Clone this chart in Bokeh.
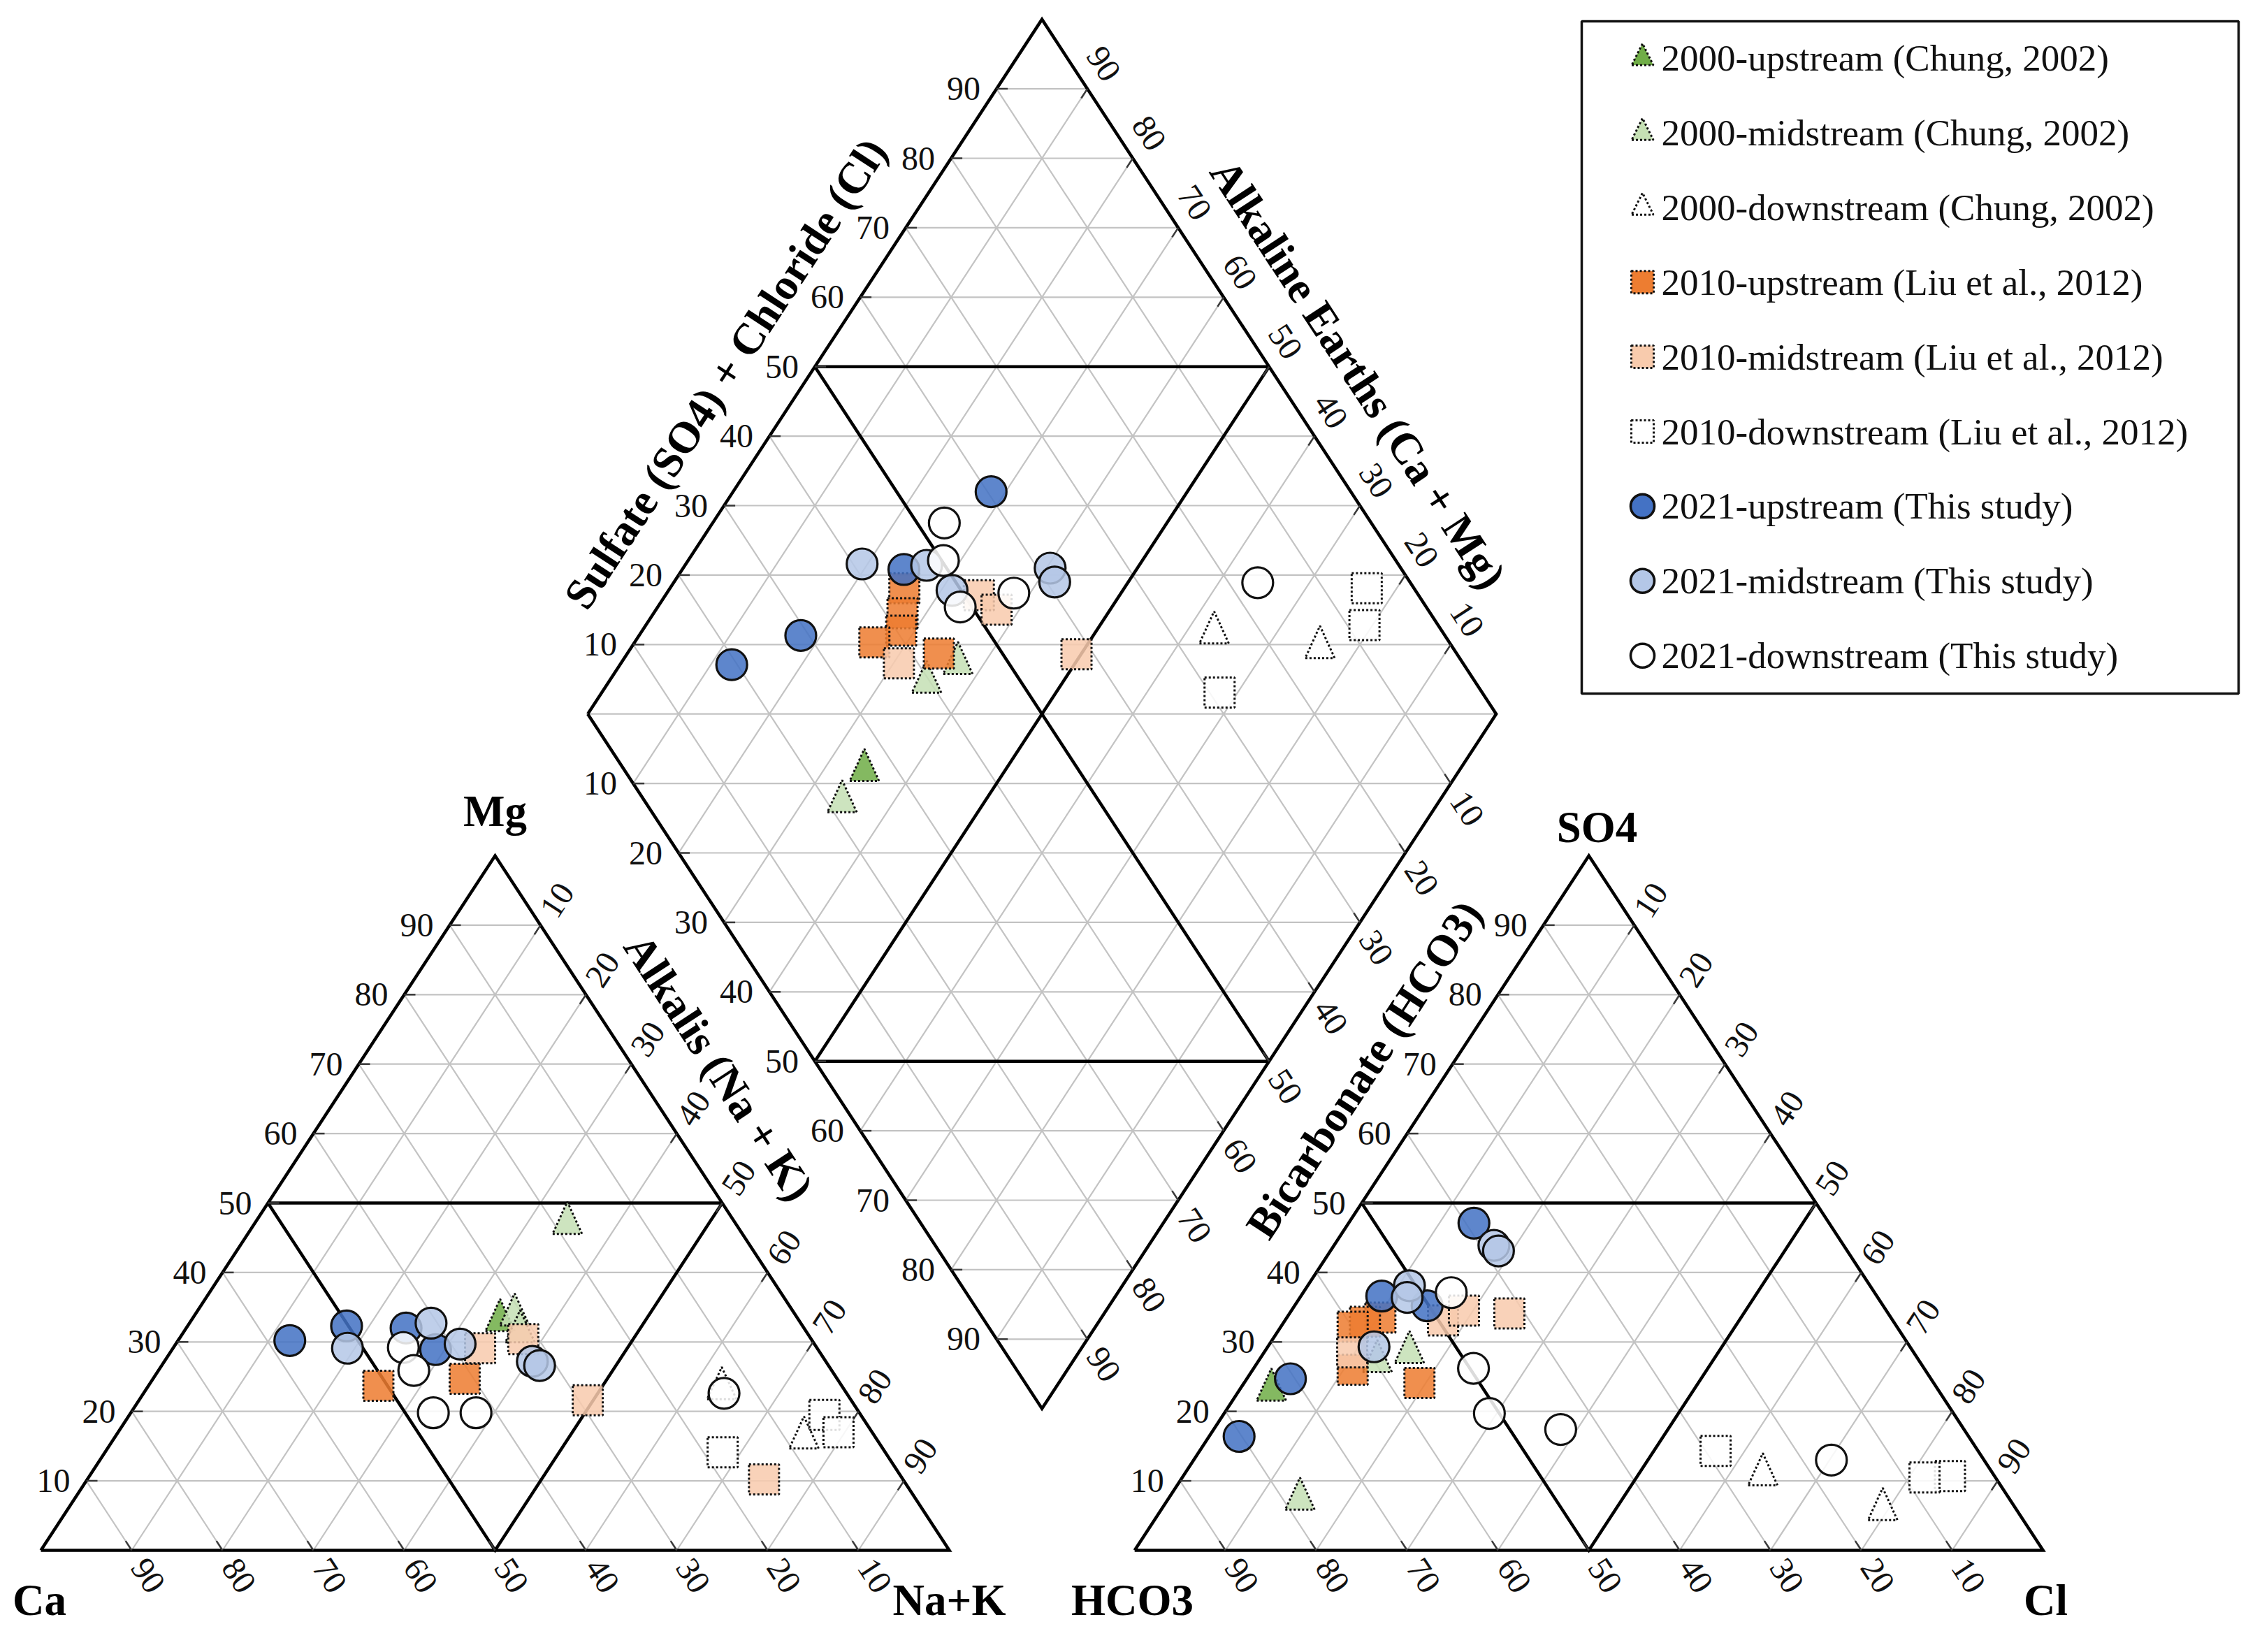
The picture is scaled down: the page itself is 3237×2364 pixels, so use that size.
import math
import numpy as np
from bokeh.plotting import figure
from bokeh.models import Range1d
from bokeh.embed import file_html
from bokeh.resources import INLINE
from bokeh.core.properties import value

# ------------------------------------------------------------------
# DATA  (percent)
# cations: Mg %, Na+K %   | anions: SO4 %, Cl %   | diamond: Na+K %, SO4+Cl %
# ------------------------------------------------------------------
LABELS = ["2000-upstream (Chung, 2002)", "2000-midstream (Chung, 2002)",
          "2000-downstream (Chung, 2002)", "2010-upstream (Liu et al., 2012)",
          "2010-midstream (Liu et al., 2012)", "2010-downstream (Liu et al., 2012)",
          "2021-upstream (This study)", "2021-midstream (This study)",
          "2021-downstream (This study)"]

U2000_MG, U2000_NAK = [33.1], [34.0]
U2000_SO4, U2000_CL = [23.1], [3.5]
U2000_D_NAK, U2000_D_AN = [34.5], [26.4]

M2000_MG, M2000_NAK = [47.1, 33.9, 31.5], [34.4, 35.2, 37.0]
M2000_SO4, M2000_CL = [7.4, 27.2, 28.5], [14.5, 13.1, 16.0]
M2000_D_NAK, M2000_D_AN = [34.3, 35.0, 37.1], [21.7, 39.6, 44.4]

D2000_MG, D2000_NAK = [23.3, 16.2], [63.3, 75.9]
D2000_SO4, D2000_CL = [10.9, 5.9], [63.7, 79.4]
D2000_D_NAK, D2000_D_AN = [63.1, 75.8], [74.8, 85.4]

U2010_MG, U2010_NAK = [23.7, 24.7], [25.3, 34.3]
U2010_SO4, U2010_CL = [33.5, 32.9, 32.2, 26.0, 24.1], [10.3, 8.9, 7.9, 11.0, 19.3]
U2010_D_NAK, U2010_D_AN = [25.8, 27.4, 28.5, 26.4, 34.3], [43.9, 41.9, 40.5, 36.7, 43.0]

M2010_MG, M2010_NAK = [29.1, 30.4, 21.6, 10.2], [33.8, 37.9, 49.4, 74.5]
M2010_SO4, M2010_CL = [33.1, 34.5, 34.1, 28.5], [17.4, 19.0, 24.2, 9.7]
M2010_D_NAK, M2010_D_AN = [30.6, 34.5, 37.5, 49.5], [37.9, 51.6, 52.5, 58.1]

D2010_MG, D2010_NAK = [14.1, 19.5, 17.0], [68.0, 76.5, 79.3]
D2010_SO4, D2010_CL = [14.3, 10.7, 10.5], [56.8, 84.4, 81.7]
D2010_D_NAK, D2010_D_AN = [68.0, 76.7, 79.1], [71.1, 94.8, 91.9]

U2021_MG, U2021_NAK = [30.2, 32.3, 32.0, 28.9], [12.3, 17.5, 24.2, 29.0]
U2021_SO4, U2021_CL = [16.4, 24.7, 36.6, 35.2, 47.1], [3.3, 4.8, 8.9, 14.6, 13.8]
U2021_D_NAK, U2021_D_AN = [12.3, 17.8, 24.4, 28.4], [19.4, 29.1, 45.2, 60.4]

M2021_MG, M2021_NAK = [29.1, 32.7, 29.7, 27.2, 26.6], [19.2, 26.6, 31.3, 40.5, 41.6]
M2021_SO4, M2021_CL = [29.3, 38.1, 36.4, 43.9, 43.1], [11.7, 11.2, 11.8, 17.6, 18.5]
M2021_D_NAK, M2021_D_AN = [19.4, 26.6, 31.2, 40.4, 41.9], [41.0, 48.0, 49.0, 61.4, 60.9]

D2021_MG, D2021_NAK = [29.2, 25.9, 19.8, 19.8, 22.6], [25.3, 28.1, 33.3, 38.0, 63.9]
D2021_SO4, D2021_CL = [37.1, 26.2, 19.7, 17.4, 13.0], [16.3, 24.2, 29.2, 38.2, 70.2]
D2021_D_NAK, D2021_D_AN = [25.5, 28.1, 33.3, 38.2, 64.3], [53.0, 50.2, 48.7, 55.6, 83.2]

TICK_VALUES = [10, 20, 30, 40, 50, 60, 70, 80, 90]

# ------------------------------------------------------------------
# geometry
# ------------------------------------------------------------------
S3 = math.sqrt(3) / 2
GAP = 0.204
FIG_W, FIG_H, OFF = 3220, 2346, 0
X0, WPX, BASE, HPX = 58.0, 1300.0, 2218.0, 994.0
YPX = HPX / S3
ANG = math.atan2(HPX, WPX / 2)
UR = (math.cos(ANG), -math.sin(ANG))   # screen direction up-right
DR = (math.cos(ANG), math.sin(ANG))    # screen direction down-right
UL = (-math.cos(ANG), -math.sin(ANG))
DL = (-math.cos(ANG), math.sin(ANG))


def px2x(X):
    return (X - X0) / WPX


def px2y(Y):
    return (BASE - Y) / YPX


def off(x, y, d, dist):
    return x + d[0] * dist / WPX, y - d[1] * dist / YPX


def cat_xy(mg, nak):
    mg = np.asarray(mg, float) / 100
    nak = np.asarray(nak, float) / 100
    return nak + mg / 2, mg * S3


def an_xy(so4, cl):
    so4 = np.asarray(so4, float) / 100
    cl = np.asarray(cl, float) / 100
    return 1 + GAP + cl + so4 / 2, so4 * S3


def dia_frac(a, b):
    return (a + b + 1 + GAP) / 2, (1 + GAP + b - a) * S3


def dia_xy(nak, an):
    a = np.asarray(nak, float) / 100
    b = np.asarray(an, float) / 100
    return dia_frac(a, b)


def tri_shapes(xs, ys, w, h):
    """Triangle outlines (w x h screen px) centred (centroid) on data points."""
    px, py = [], []
    for x, y in zip(np.atleast_1d(xs), np.atleast_1d(ys)):
        px.append([x - w / 2 / WPX, x + w / 2 / WPX, x])
        py.append([y - h / 3 / YPX, y - h / 3 / YPX, y + 2 * h / 3 / YPX])
    return px, py


p = figure(width=FIG_W, height=FIG_H,
           x_range=Range1d(px2x(OFF), px2x(OFF + FIG_W)),
           y_range=Range1d(px2y(OFF + FIG_H), px2y(OFF)),
           output_backend="svg", toolbar_location=None, min_border=0,
           x_axis_location=None, y_axis_location=None)
p.grid.visible = False
p.outline_line_color = None
p.background_fill_color = "white"
p.border_fill_color = "white"

FONT = value("Liberation Serif")

# ---------------- grid lines ----------------
gx, gy = [], []
for ox in (0.0, 1 + GAP):
    for v in TICK_VALUES:
        k = v / 100
        gx.append([ox + k / 2, ox + 1 - k / 2]); gy.append([k * S3, k * S3])
        gx.append([ox + k, ox + k / 2]); gy.append([0, k * S3])
        gx.append([ox + k, ox + (1 + k) / 2]); gy.append([0, (1 - k) * S3])
for v in TICK_VALUES:
    k = v / 100
    for (a0, b0, a1, b1) in ((k, 0, k, 1), (0, k, 1, k)):
        x0, y0 = dia_frac(a0, b0); x1, y1 = dia_frac(a1, b1)
        gx.append([x0, x1]); gy.append([y0, y1])
for i in range(-9, 10):
    d = i / 10
    if d >= 0:
        x0, y0 = dia_frac(0, d); x1, y1 = dia_frac(1 - d, 1)
    else:
        x0, y0 = dia_frac(-d, 0); x1, y1 = dia_frac(1, 1 + d)
    gx.append([x0, x1]); gy.append([y0, y1])
p.multi_line(gx, gy, line_color="#C3C3C3", line_width=2.2)

# ---------------- black frame lines ----------------
bx, by = [], []
for ox in (0.0, 1 + GAP):
    bx.append([ox, ox + 1, ox + 0.5, ox]); by.append([0, 0, S3, 0])
    bx.append([ox + 0.25, ox + 0.75]); by.append([0.5 * S3, 0.5 * S3])
    bx.append([ox + 0.25, ox + 0.5, ox + 0.75]); by.append([0.5 * S3, 0, 0.5 * S3])
corners = [dia_frac(0, 0), dia_frac(0, 1), dia_frac(1, 1), dia_frac(1, 0), dia_frac(0, 0)]
bx.append([c[0] for c in corners]); by.append([c[1] for c in corners])
for (a0, b0, a1, b1) in ((0.5, 0, 0.5, 1), (0, 0.5, 1, 0.5), (0, 0.5, 0.5, 1), (0.5, 0, 1, 0.5)):
    x0, y0 = dia_frac(a0, b0); x1, y1 = dia_frac(a1, b1)
    bx.append([x0, x1]); by.append([y0, y1])
p.multi_line(bx, by, line_color="black", line_width=4.5, line_join="miter")

# ---------------- tick marks and tick labels ----------------
tx, ty = [], []
lx, ly, lt, la = [], [], [], []
HOR = (-1.0, 0.0)
RIGHT = (1.0, 0.0)


def add_tick(x, y, d_lab, ang, d_tick, text, dist):
    X, Y = off(x, y, d_lab, dist)
    lx.append(X); ly.append(Y); lt.append(text); la.append(ang)
    X2, Y2 = off(x, y, d_tick, 16)
    tx.append([x, X2]); ty.append([y, Y2])


for v in TICK_VALUES:
    k = v / 100
    t = str(v)
    for ox in (0.0, 1 + GAP):
        add_tick(ox + k / 2, k * S3, HOR, 0.0, RIGHT, t, 47)                  # Mg / SO4
        add_tick(ox + k + (1 - k) / 2, (1 - k) * S3, UR, ANG, DL, t, 43)      # Na+K / Cl
        add_tick(ox + 1 - k, 0.0, DR, -ANG, UL, t, 43)                        # Ca / HCO3
    x, y = dia_frac(0, k); add_tick(x, y, HOR, 0.0, RIGHT, t, 47)             # SO4+Cl
    x, y = dia_frac(1 - k, 1); add_tick(x, y, UR, -ANG, DL, t, 43)            # Ca+Mg
    x, y = dia_frac(k, 0); add_tick(x, y, HOR, 0.0, RIGHT, t, 47)             # Na+K
    x, y = dia_frac(1, 1 - k); add_tick(x, y, DR, -ANG, UL, t, 43)            # HCO3

p.multi_line(tx, ty, line_color="#3a3a3a", line_width=2.5)
p.text(x=lx, y=ly, text=lt, angle=la, text_font=FONT, text_font_size="48px",
       text_align="center", text_baseline="middle", text_color="#111111")

# ---------------- corner labels and axis titles ----------------
corner_txt = ["Ca", "Na+K", "Mg", "HCO3", "Cl", "SO4"]
corner_px = [(56, 2289), (1358, 2289), (708, 1160), (1620, 2289), (2927, 2289), (2285, 1183)]
p.text(x=[px2x(c[0]) for c in corner_px], y=[px2y(c[1]) for c in corner_px], text=corner_txt,
       text_font=FONT, text_font_size="63px", text_font_style="bold",
       text_align="center", text_baseline="middle", text_color="black")

title_txt = ["Sulfate (SO4) + Chloride (Cl)", "Alkaline Earths (Ca + Mg)",
             "Alkalis (Na + K)", "Bicarbonate (HCO3)"]
title_px = [(1038, 534), (1943, 535), (1028, 1527), (1952, 1530)]
title_ang = [ANG, -ANG, -ANG, ANG]
p.text(x=[px2x(c[0]) for c in title_px], y=[px2y(c[1]) for c in title_px], text=title_txt,
       angle=title_ang, text_font=FONT, text_font_size="63px", text_font_style="bold",
       text_align="center", text_baseline="middle", text_color="black")

# ---------------- data series ----------------
SERIES = [
    (LABELS[0], "triangle", "#70AD47", (U2000_MG, U2000_NAK), (U2000_SO4, U2000_CL), (U2000_D_NAK, U2000_D_AN)),
    (LABELS[1], "triangle", "#C5E0B4", (M2000_MG, M2000_NAK), (M2000_SO4, M2000_CL), (M2000_D_NAK, M2000_D_AN)),
    (LABELS[2], "triangle", "#FFFFFF", (D2000_MG, D2000_NAK), (D2000_SO4, D2000_CL), (D2000_D_NAK, D2000_D_AN)),
    (LABELS[3], "square", "#ED7D31", (U2010_MG, U2010_NAK), (U2010_SO4, U2010_CL), (U2010_D_NAK, U2010_D_AN)),
    (LABELS[4], "square", "#F8CBAD", (M2010_MG, M2010_NAK), (M2010_SO4, M2010_CL), (M2010_D_NAK, M2010_D_AN)),
    (LABELS[5], "square", "#FFFFFF", (D2010_MG, D2010_NAK), (D2010_SO4, D2010_CL), (D2010_D_NAK, D2010_D_AN)),
    (LABELS[6], "circle", "#4472C4", (U2021_MG, U2021_NAK), (U2021_SO4, U2021_CL), (U2021_D_NAK, U2021_D_AN)),
    (LABELS[7], "circle", "#B4C7E7", (M2021_MG, M2021_NAK), (M2021_SO4, M2021_CL), (M2021_D_NAK, M2021_D_AN)),
    (LABELS[8], "circle", "#FFFFFF", (D2021_MG, D2021_NAK), (D2021_SO4, D2021_CL), (D2021_D_NAK, D2021_D_AN)),
]


def draw(marker, fill, xs, ys, big=True, alpha=0.86):
    if marker == "triangle":
        w, h = (42, 46) if big else (31, 31)
        px, py = tri_shapes(xs, ys, w, h)
        p.patches(px, py, fill_color=fill, fill_alpha=alpha, line_color="#111111",
                  line_width=3.0, line_dash="3 3")
    elif marker == "square":
        p.scatter(x=xs, y=ys, marker="square", size=43 if big else 32, fill_color=fill,
                  fill_alpha=alpha, line_color="#111111", line_width=3.0, line_dash="3 3")
    else:
        p.scatter(x=xs, y=ys, marker="circle", size=44 if big else 34, fill_color=fill,
                  fill_alpha=alpha, line_color="#111111", line_width=3.2 if big else 3.6)


for name, marker, fill, cat, an, dia in SERIES:
    for xs, ys in (cat_xy(*cat), an_xy(*an), dia_xy(*dia)):
        draw(marker, fill, xs, ys)

# ---------------- legend ----------------
p.quad(left=px2x(2263), right=px2x(3203), top=px2y(30), bottom=px2y(992),
       fill_color=None, line_color="#111111", line_width=3.5)
row_y = [82.5 + 106.9 * i for i in range(len(SERIES))]
for (name, marker, fill, cat, an, dia), ry in zip(SERIES, row_y):
    draw(marker, fill, [px2x(2350)], [px2y(ry)], big=False, alpha=1.0)
p.text(x=[px2x(2377)] * len(SERIES), y=[px2y(r) for r in row_y], text=LABELS,
       text_font=FONT, text_font_size="53px", text_align="left", text_baseline="middle",
       text_color="#111111")

open("out.html", "w").write(file_html(p, INLINE))
